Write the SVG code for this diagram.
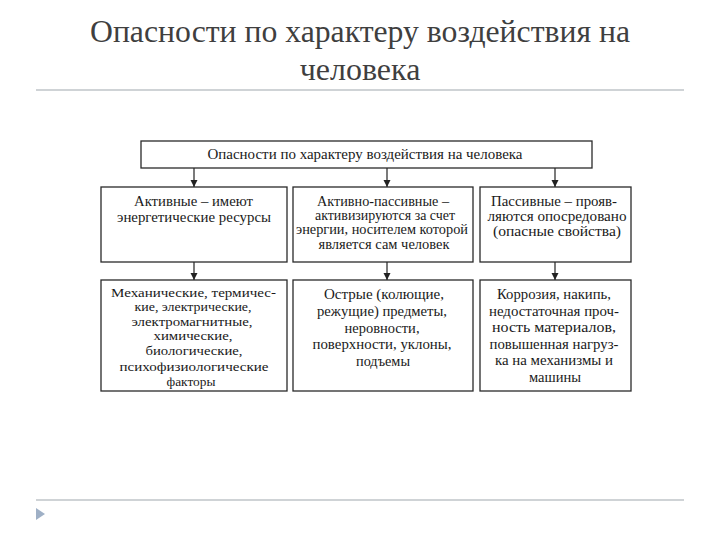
<svg xmlns="http://www.w3.org/2000/svg" width="720" height="540" viewBox="0 0 720 540">
<defs>
<style>
.title{font-family:"Liberation Serif","DejaVu Serif",serif;font-size:32px;fill:#3f3f3f;text-anchor:middle}
.box{fill:#fff;stroke:#2a2a2a;stroke-width:1.3}
.t{font-family:"Liberation Serif","DejaVu Serif",serif;font-size:14px;fill:#1a1a1a;text-anchor:middle}
.s{font-size:13.5px}
.conn{stroke:#222;stroke-width:1.2;fill:none;marker-end:url(#ah)}
.rule{stroke:#cfd3d6;stroke-width:2}
</style>
<marker id="ah" markerWidth="8" markerHeight="8" refX="7" refY="4" orient="auto" markerUnits="userSpaceOnUse">
<path d="M0,0.5 L7,4 L0,7.5 Z" fill="#222"/>
</marker>
</defs>
<rect width="720" height="540" fill="#fff"/>
<text class="title" x="360" y="42" textLength="540" lengthAdjust="spacingAndGlyphs">Опасности по характеру воздействия на</text>
<text class="title" x="360" y="80">человека</text>
<line class="rule" x1="36" y1="90" x2="684" y2="90"/>
<line class="rule" x1="36" y1="500" x2="684" y2="500"/>
<path d="M36,508 L45,514 L36,520 Z" fill="#9fb0c6"/>

<g id="connectors">
<line class="conn" x1="194" y1="168" x2="194" y2="187"/>
<line class="conn" x1="387" y1="168" x2="387" y2="187"/>
<line class="conn" x1="555" y1="168" x2="555" y2="187"/>
<line class="conn" x1="194" y1="262" x2="194" y2="280"/>
<line class="conn" x1="387" y1="262" x2="387" y2="280"/>
<line class="conn" x1="555" y1="262" x2="555" y2="280"/>
</g>

<g id="root">
<rect class="box" x="141" y="141" width="451" height="27"/>
<text class="t" x="365" y="159" textLength="315" lengthAdjust="spacingAndGlyphs">Опасности по характеру воздействия на человека</text>
</g>

<g id="active">
<rect class="box" x="101" y="187" width="186" height="75"/>
<text class="t" x="193.5" y="206" textLength="119" lengthAdjust="spacingAndGlyphs">Активные – имеют</text>
<text class="t" x="194" y="222" textLength="154" lengthAdjust="spacingAndGlyphs">энергетические ресурсы</text>
</g>

<g id="active-passive">
<rect class="box" x="293" y="187" width="180" height="75"/>
<text class="t" x="383" y="206" textLength="132" lengthAdjust="spacingAndGlyphs">Активно-пассивные –</text>
<text class="t" x="385" y="220" textLength="140" lengthAdjust="spacingAndGlyphs">активизируются за счет</text>
<text class="t" x="382" y="234" textLength="172" lengthAdjust="spacingAndGlyphs">энергии, носителем которой</text>
<text class="t" x="384" y="249" textLength="131" lengthAdjust="spacingAndGlyphs">является сам человек</text>
</g>

<g id="passive">
<rect class="box" x="480" y="187" width="151" height="75"/>
<text class="t" x="554" y="206" textLength="126" lengthAdjust="spacingAndGlyphs">Пассивные – прояв-</text>
<text class="t" x="557" y="221" textLength="139" lengthAdjust="spacingAndGlyphs">ляются опосредовано</text>
<text class="t" x="557" y="236" textLength="128" lengthAdjust="spacingAndGlyphs">(опасные свойства)</text>
</g>

<g id="active-factors">
<rect class="box" x="101" y="280" width="186" height="111"/>
<text class="t s" x="193.5" y="297" textLength="165" lengthAdjust="spacingAndGlyphs">Механические, термичес-</text>
<text class="t s" x="193" y="311" textLength="117" lengthAdjust="spacingAndGlyphs">кие, электрические,</text>
<text class="t s" x="192" y="326" textLength="121" lengthAdjust="spacingAndGlyphs">электромагнитные,</text>
<text class="t s" x="193" y="340" textLength="79" lengthAdjust="spacingAndGlyphs">химические,</text>
<text class="t s" x="194" y="355" textLength="97" lengthAdjust="spacingAndGlyphs">биологические,</text>
<text class="t s" x="194" y="371" textLength="149" lengthAdjust="spacingAndGlyphs">психофизиологические</text>
<text class="t s" x="191" y="386" textLength="49" lengthAdjust="spacingAndGlyphs">факторы</text>
</g>

<g id="active-passive-factors">
<rect class="box" x="293" y="280" width="180" height="111"/>
<text class="t" x="384" y="299" textLength="120" lengthAdjust="spacingAndGlyphs">Острые (колющие,</text>
<text class="t" x="382" y="316" textLength="130" lengthAdjust="spacingAndGlyphs">режущие) предметы,</text>
<text class="t" x="382" y="333" textLength="75" lengthAdjust="spacingAndGlyphs">неровности,</text>
<text class="t" x="382" y="349" textLength="139" lengthAdjust="spacingAndGlyphs">поверхности, уклоны,</text>
<text class="t" x="383" y="366" textLength="54" lengthAdjust="spacingAndGlyphs">подъемы</text>
</g>

<g id="passive-factors">
<rect class="box" x="480" y="280" width="151" height="111"/>
<text class="t" x="554" y="299" textLength="114" lengthAdjust="spacingAndGlyphs">Коррозия, накипь,</text>
<text class="t" x="554" y="316" textLength="130" lengthAdjust="spacingAndGlyphs">недостаточная проч-</text>
<text class="t" x="554" y="332" textLength="124" lengthAdjust="spacingAndGlyphs">ность материалов,</text>
<text class="t" x="554" y="349" textLength="129" lengthAdjust="spacingAndGlyphs">повышенная нагруз-</text>
<text class="t" x="554" y="365" textLength="118" lengthAdjust="spacingAndGlyphs">ка на механизмы и</text>
<text class="t" x="555" y="382" textLength="52" lengthAdjust="spacingAndGlyphs">машины</text>
</g>
</svg>
